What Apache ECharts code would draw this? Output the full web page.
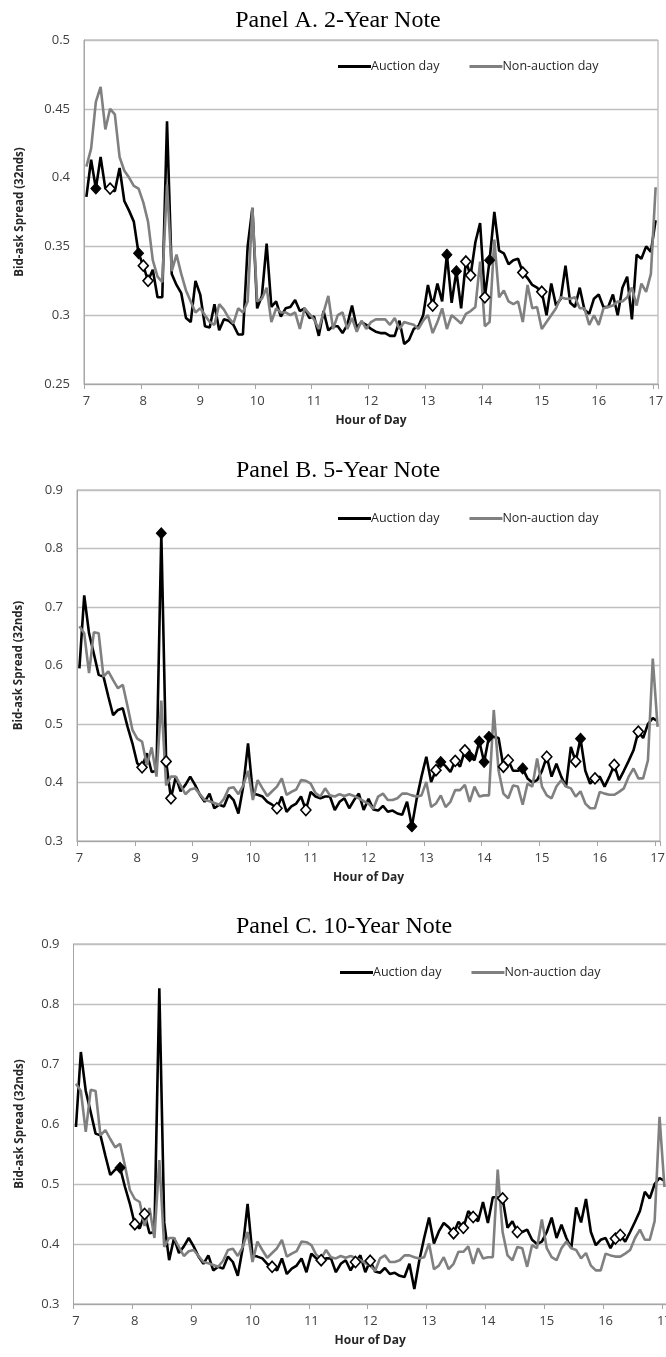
<!DOCTYPE html>
<html>
<head>
<meta charset="utf-8">
<script src="https://cdn.jsdelivr.net/npm/echarts@6/dist/echarts.min.js"></script>
<style>
  html, body { margin: 0; padding: 0; background: #ffffff; }
  #chart { width: 666px; height: 1357px; }
</style>
</head>
<body>
<div id="chart"></div>
<script>
// Five-minute slots from 7:00 to 17:00 (121 categories)
const timeSlots = [];
for (let m = 7 * 60; m <= 17 * 60; m += 5) {
  timeSlots.push(Math.floor(m / 60) + ':' + String(m % 60).padStart(2, '0'));
}
const hourLabels = ['7', '8', '9', '10', '11', '12', '13', '14', '15', '16', '17'];

const panelTitles = ['Panel A. 2-Year Note', 'Panel B. 5-Year Note', 'Panel C. 10-Year Note'];
const seriesNames = ['Auction day', 'Non-auction day'];

// Average bid-ask spread (32nds), 2-year note
const twoYearAuction = [
  0.386,0.413,0.392,0.415,0.392,0.392,0.390,0.407,0.383,0.376,
  0.368,0.345,0.336,0.325,0.333,0.313,0.313,0.441,0.330,0.322,
  0.316,0.298,0.295,0.325,0.315,0.292,0.291,0.308,0.289,0.297,
  0.296,0.293,0.286,0.286,0.350,0.378,0.305,0.314,0.352,0.306,
  0.310,0.299,0.305,0.306,0.311,0.303,0.305,0.298,0.299,0.285,
  0.303,0.289,0.292,0.292,0.287,0.293,0.307,0.291,0.295,0.293,
  0.290,0.288,0.287,0.287,0.285,0.285,0.296,0.279,0.282,0.290,
  0.292,0.300,0.322,0.307,0.323,0.310,0.344,0.309,0.332,0.305,
  0.339,0.329,0.353,0.367,0.313,0.340,0.375,0.347,0.345,0.337,
  0.340,0.341,0.331,0.327,0.322,0.320,0.317,0.300,0.323,0.307,
  0.312,0.336,0.309,0.306,0.320,0.304,0.301,0.312,0.315,0.306,
  0.306,0.315,0.300,0.320,0.328,0.297,0.344,0.341,0.350,0.346,
  0.369
];
const twoYearNonAuction = [
  0.408,0.421,0.455,0.466,0.435,0.450,0.446,0.415,0.405,0.400,
  0.394,0.392,0.382,0.368,0.340,0.328,0.324,0.395,0.332,0.344,
  0.330,0.318,0.310,0.302,0.305,0.300,0.295,0.293,0.308,0.304,
  0.298,0.294,0.305,0.302,0.310,0.378,0.310,0.312,0.320,0.295,
  0.305,0.302,0.302,0.300,0.302,0.290,0.305,0.301,0.297,0.290,
  0.302,0.314,0.290,0.300,0.302,0.290,0.298,0.288,0.296,0.290,
  0.295,0.297,0.297,0.297,0.293,0.298,0.290,0.295,0.294,0.293,
  0.290,0.296,0.300,0.287,0.295,0.305,0.290,0.300,0.297,0.294,
  0.301,0.303,0.306,0.339,0.292,0.295,0.355,0.313,0.318,0.310,
  0.308,0.310,0.295,0.322,0.305,0.306,0.290,0.295,0.300,0.305,
  0.313,0.312,0.312,0.313,0.305,0.305,0.293,0.300,0.293,0.305,
  0.306,0.307,0.310,0.310,0.313,0.320,0.307,0.323,0.317,0.330,
  0.393
];

// 5-year note
const fiveYearAuction = [
  0.595,0.720,0.655,0.620,0.584,0.581,0.547,0.515,0.524,0.527,
  0.495,0.467,0.433,0.426,0.450,0.418,0.420,0.826,0.436,0.373,
  0.410,0.385,0.396,0.410,0.396,0.379,0.367,0.381,0.356,0.362,
  0.359,0.379,0.370,0.347,0.393,0.467,0.381,0.379,0.376,0.367,
  0.362,0.356,0.376,0.350,0.359,0.364,0.376,0.353,0.384,0.376,
  0.373,0.376,0.376,0.353,0.367,0.373,0.356,0.370,0.381,0.353,
  0.372,0.354,0.352,0.360,0.350,0.352,0.347,0.345,0.367,0.325,
  0.372,0.410,0.444,0.401,0.421,0.435,0.428,0.418,0.437,0.427,
  0.455,0.445,0.438,0.470,0.435,0.478,0.478,0.476,0.427,0.438,
  0.420,0.420,0.424,0.407,0.400,0.404,0.420,0.444,0.410,0.432,
  0.410,0.393,0.461,0.436,0.475,0.420,0.398,0.407,0.410,0.393,
  0.410,0.430,0.404,0.420,0.437,0.455,0.487,0.476,0.500,0.510,
  0.505
];
const fiveYearNonAuction = [
  0.667,0.655,0.587,0.657,0.655,0.581,0.590,0.575,0.561,0.567,
  0.530,0.490,0.475,0.470,0.430,0.460,0.410,0.540,0.395,0.410,
  0.410,0.395,0.380,0.388,0.390,0.380,0.370,0.368,0.365,0.362,
  0.372,0.390,0.392,0.380,0.395,0.420,0.370,0.404,0.390,0.377,
  0.385,0.393,0.407,0.379,0.384,0.388,0.404,0.403,0.398,0.382,
  0.376,0.390,0.378,0.376,0.380,0.377,0.380,0.377,0.373,0.368,
  0.364,0.355,0.376,0.381,0.370,0.370,0.373,0.381,0.381,0.378,
  0.376,0.378,0.401,0.358,0.364,0.378,0.358,0.367,0.387,0.387,
  0.396,0.367,0.393,0.376,0.378,0.378,0.524,0.420,0.381,0.373,
  0.395,0.393,0.362,0.398,0.393,0.441,0.393,0.378,0.373,0.393,
  0.404,0.393,0.390,0.376,0.385,0.364,0.356,0.356,0.384,0.381,
  0.379,0.379,0.384,0.390,0.410,0.424,0.407,0.407,0.438,0.612,
  0.495
];

// 10-year note
const tenYearAuction = [
  0.595,0.720,0.655,0.620,0.584,0.581,0.547,0.515,0.524,0.527,
  0.495,0.467,0.433,0.426,0.450,0.418,0.420,0.826,0.436,0.373,
  0.410,0.385,0.396,0.410,0.396,0.379,0.367,0.381,0.356,0.362,
  0.359,0.379,0.370,0.347,0.393,0.467,0.381,0.379,0.376,0.367,
  0.362,0.356,0.376,0.350,0.359,0.364,0.376,0.353,0.384,0.376,
  0.373,0.376,0.376,0.353,0.367,0.373,0.356,0.370,0.381,0.353,
  0.372,0.354,0.352,0.360,0.350,0.352,0.347,0.345,0.367,0.325,
  0.372,0.410,0.444,0.401,0.421,0.435,0.428,0.418,0.437,0.427,
  0.455,0.445,0.438,0.470,0.435,0.478,0.478,0.476,0.427,0.438,
  0.420,0.420,0.424,0.407,0.400,0.404,0.420,0.444,0.410,0.432,
  0.410,0.393,0.461,0.436,0.475,0.420,0.398,0.407,0.410,0.393,
  0.409,0.415,0.404,0.420,0.437,0.455,0.487,0.476,0.500,0.510,
  0.505
];
const tenYearNonAuction = [
  0.667,0.655,0.587,0.657,0.655,0.581,0.590,0.575,0.561,0.567,
  0.530,0.490,0.475,0.470,0.430,0.460,0.410,0.540,0.395,0.410,
  0.410,0.395,0.380,0.388,0.390,0.380,0.370,0.368,0.365,0.362,
  0.372,0.390,0.392,0.380,0.395,0.420,0.370,0.404,0.390,0.377,
  0.385,0.393,0.407,0.379,0.384,0.388,0.404,0.403,0.398,0.382,
  0.376,0.390,0.378,0.376,0.380,0.377,0.380,0.377,0.373,0.368,
  0.364,0.355,0.376,0.381,0.370,0.370,0.373,0.381,0.381,0.378,
  0.376,0.378,0.401,0.358,0.364,0.378,0.358,0.367,0.387,0.387,
  0.396,0.367,0.393,0.376,0.378,0.378,0.524,0.420,0.381,0.373,
  0.395,0.393,0.362,0.398,0.393,0.441,0.393,0.378,0.373,0.393,
  0.404,0.393,0.390,0.376,0.385,0.364,0.356,0.356,0.384,0.381,
  0.379,0.379,0.384,0.390,0.410,0.424,0.407,0.407,0.438,0.612,
  0.495
];

// Slots where the auction-day spread differs significantly (filled / hollow diamonds)
const twoYearFilled = [2, 11, 76, 78, 85];
const twoYearHollow = [5, 12, 13, 73, 80, 81, 84, 92, 96];
const fiveYearFilled = [17, 69, 75, 81, 83, 84, 85, 92, 104];
const fiveYearHollow = [13, 18, 19, 41, 47, 74, 78, 80, 88, 89, 97, 103, 107, 111, 116];
const tenYearFilled = [9];
const tenYearHollow = [12, 14, 40, 50, 57, 60, 77, 79, 81, 87, 90, 110, 111];

// y-axis ranges
const yTicksA = { min: 0.25, max: 0.5, interval: 0.05 };
const yTicksBC = { min: 0.3, max: 0.9, interval: 0.1 };

const panels = [
  { auction: twoYearAuction, non: twoYearNonAuction, filled: twoYearFilled, hollow: twoYearHollow, y: yTicksA,
    grid: { left: 84, width: 574, top: 40, height: 344 }, titleTop: 4, titleX: 333, legendTop: 55, legendLeft: 333, nameGap: 58 },
  { auction: fiveYearAuction, non: fiveYearNonAuction, filled: fiveYearFilled, hollow: fiveYearHollow, y: yTicksBC,
    grid: { left: 77, width: 583, top: 490, height: 351 }, titleTop: 454, titleX: 333, legendTop: 507, legendLeft: 333, nameGap: 52 },
  { auction: tenYearAuction, non: tenYearNonAuction, filled: tenYearFilled, hollow: tenYearHollow, y: yTicksBC,
    grid: { left: 73.5, width: 593.4, top: 944, height: 360 }, titleTop: 910, titleX: 339, legendTop: 961, legendLeft: 335, nameGap: 48 }
];

const labelFont = '"Open Sans", "Noto Sans", sans-serif';
const option = {
  animation: false,
  backgroundColor: '#ffffff',
  title: [], legend: [], grid: [], xAxis: [], yAxis: [], series: []
};

panels.forEach((p, k) => {
  option.title.push({
    text: panelTitles[k], left: p.titleX, top: p.titleTop, textAlign: 'center',
    textStyle: { fontFamily: '"Liberation Serif", "Times New Roman", serif', fontSize: 24, fontWeight: 'normal', color: '#000' }
  });
  option.legend.push({
    data: seriesNames, left: p.legendLeft, top: p.legendTop, icon: 'rect',
    itemWidth: 33, itemHeight: 3, itemGap: 30, selectedMode: false,
    textStyle: { fontFamily: labelFont, fontSize: 12.5, color: '#262626', padding: [0, 0, 0, -5] }
  });
  option.grid.push(Object.assign({
    show: true, borderColor: '#a6a6a6', borderWidth: 1,
    containLabel: false, outerBoundsMode: 'none'
  }, p.grid));
  option.xAxis.push({
    type: 'category', gridIndex: k, data: timeSlots, boundaryGap: true,
    name: 'Hour of Day', nameLocation: 'middle', nameGap: 31,
    nameTextStyle: { fontFamily: labelFont, fontSize: 12, fontWeight: 'bold', color: '#262626' },
    axisLine: { lineStyle: { color: '#a6a6a6', width: 1 } },
    axisTick: { show: true, interval: 11, length: 5, lineStyle: { color: '#a6a6a6' } },
    axisLabel: { interval: 11, margin: 11, fontFamily: labelFont, fontSize: 13, color: '#404040',
      hideOverlap: false, formatter: (v, i) => hourLabels[i / 12] },
    splitLine: { show: false }
  });
  option.yAxis.push({
    type: 'value', gridIndex: k, min: p.y.min, max: p.y.max, interval: p.y.interval,
    name: 'Bid-ask Spread (32nds)', nameLocation: 'middle', nameGap: p.nameGap, nameRotate: 90,
    nameTextStyle: { fontFamily: labelFont, fontSize: 11.5, fontWeight: 'bold', color: '#262626' },
    axisLine: { show: true, lineStyle: { color: '#a6a6a6', width: 1 } },
    axisTick: { show: false },
    axisLabel: { margin: 14, fontFamily: labelFont, fontSize: 13, color: '#404040' },
    splitLine: { show: true, lineStyle: { color: '#bfbfbf', width: 1.3 } }
  });
  option.series.push({
    name: seriesNames[0], type: 'line', xAxisIndex: k, yAxisIndex: k, data: p.auction,
    symbol: 'none', color: '#000000', lineStyle: { color: '#000000', width: 2.6 }, z: 2
  });
  option.series.push({
    name: seriesNames[1], type: 'line', xAxisIndex: k, yAxisIndex: k, data: p.non,
    symbol: 'none', color: '#808080', lineStyle: { color: '#808080', width: 2.6 }, z: 3
  });
  option.series.push({
    name: 'filled-' + k, type: 'scatter', xAxisIndex: k, yAxisIndex: k, z: 5,
    data: p.filled.map(i => [i, p.auction[i]]),
    symbol: 'diamond', symbolSize: [10, 11],
    itemStyle: { color: '#000000', borderColor: '#000000', borderWidth: 1, opacity: 1 }
  });
  option.series.push({
    name: 'hollow-' + k, type: 'scatter', xAxisIndex: k, yAxisIndex: k, z: 5,
    data: p.hollow.map(i => [i, p.auction[i]]),
    symbol: 'diamond', symbolSize: [10, 11],
    itemStyle: { color: '#ffffff', borderColor: '#000000', borderWidth: 1.6, opacity: 1 }
  });
});

const chart = echarts.init(document.getElementById('chart'), null, { renderer: 'canvas' });
chart.setOption(option);
</script>
</body>
</html>
